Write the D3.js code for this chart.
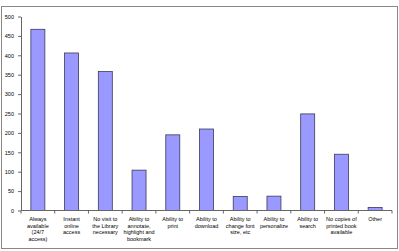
<!DOCTYPE html>
<html>
<head>
<meta charset="utf-8">
<script src="https://cdn.jsdelivr.net/npm/d3@7"></script>
<style>
  body { margin: 0; background: #fff; }
  svg text { font-family: "Liberation Sans", Arial, sans-serif; fill: #000; }
</style>
</head>
<body>
<svg id="chart" width="399" height="251"></svg>
<script>
// categories, split into label lines
const categories = [
  ["Always", "available", "(24/7", "access)"],
  ["Instant", "online", "access"],
  ["No visit to", "the Library", "necessary"],
  ["Ability to", "annotate,", "highlight and", "bookmark"],
  ["Ability to", "print"],
  ["Ability to", "download"],
  ["Ability to", "change font", "size, etc"],
  ["Ability to", "personalize"],
  ["Ability to", "search"],
  ["No copies of", "printed book", "available"],
  ["Other"]
];
const values = [467, 406, 358, 104, 195, 210, 36, 37, 249, 145, 8];
const yTicks = [0, 50, 100, 150, 200, 250, 300, 350, 400, 450, 500];

const svg = d3.select('#chart');

// outer frame
svg.append('rect')
  .attr('x', 1.5).attr('y', 6.5)
  .attr('width', 396).attr('height', 242)
  .attr('fill', '#fff')
  .attr('stroke', '#888');

const plotLeft = 21, plotRight = 392, plotTop = 16.5, plotBottom = 210.5;

const x = d3.scaleBand()
  .domain(d3.range(categories.length))
  .range([plotLeft, plotRight]);

const y = d3.scaleLinear()
  .domain([0, 500])
  .range([plotBottom, plotTop]);

// bars
svg.append('g').selectAll('rect')
  .data(values)
  .enter()
  .append('rect')
  .attr('x', (d, i) => x(i) + x.bandwidth() / 2 - 7)
  .attr('y', d => y(d))
  .attr('width', 14)
  .attr('height', d => plotBottom - y(d))
  .attr('fill', '#9999ff')
  .attr('stroke', '#3a3a5a')
  .attr('stroke-width', 0.8);

// y axis
const yAxis = svg.append('g')
  .attr('transform', `translate(${plotLeft},0)`)
  .call(d3.axisLeft(y).tickValues(yTicks).tickSize(3).tickSizeOuter(0));
yAxis.selectAll('text').attr('font-size', 5.5).attr('dx', -1);
yAxis.selectAll('line, path').attr('stroke', '#666');

// x axis line with ticks at band boundaries
const xg = svg.append('g');
xg.append('line')
  .attr('x1', plotLeft).attr('x2', plotRight)
  .attr('y1', plotBottom).attr('y2', plotBottom)
  .attr('stroke', '#666');
xg.selectAll('line.tick')
  .data(d3.range(categories.length + 1))
  .enter()
  .append('line')
  .attr('class', 'tick')
  .attr('x1', i => i < categories.length ? x(i) : plotRight)
  .attr('x2', i => i < categories.length ? x(i) : plotRight)
  .attr('y1', plotBottom).attr('y2', plotBottom + 3)
  .attr('stroke', '#666');

// category labels
categories.forEach((lines, i) => {
  const t = svg.append('text')
    .attr('text-anchor', 'middle')
    .attr('font-size', 5.5)
    .attr('x', x(i) + x.bandwidth() / 2)
    .attr('y', 221);
  lines.forEach((s, j) => {
    t.append('tspan')
      .attr('x', x(i) + x.bandwidth() / 2)
      .attr('dy', j === 0 ? 0 : 6.6)
      .text(s);
  });
});
</script>
</body>
</html>
